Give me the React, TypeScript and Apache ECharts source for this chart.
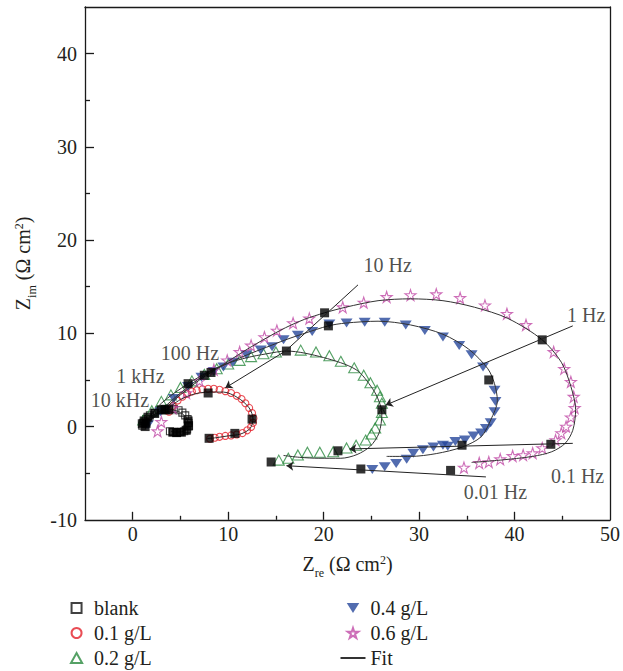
import React, { useEffect, useRef } from 'react';
import * as echarts from 'echarts';

const FONT = '"Liberation Serif", "DejaVu Serif", serif';
const TEXT = '#231f20';
const AXIS = '#1a1a1a';

// ticks / labels
const xTickLabels = [0, 10, 20, 30, 40, 50];
const yTickLabels = [-10, 0, 10, 20, 30, 40];
const xMajorTicks = [0, 10, 20, 30, 40];
const xMinorTicks = [5, 15, 25, 35, 45];
const yMajorTicks = [0, 10, 20, 30, 40];
const yMinorTicks = [-5, 5, 15, 25, 35];

// measured data (Zre, Zim)
const blankData = [
  [1.0, 0.1], [1.1, 0.4], [1.4, 0.8], [1.8, 1.2], [2.3, 1.5], [2.8, 1.75], [3.3, 1.9], [3.8, 1.95],
  [4.3, 1.9], [4.8, 1.75], [5.2, 1.5], [5.5, 1.2], [5.75, 0.8], [5.85, 0.4], [5.85, 0.0], [5.7, -0.3],
  [5.4, -0.5], [5.0, -0.6], [4.6, -0.65], [4.2, -0.6], [3.9, -0.5],
];
const g01Data = [
  [3.8, 1.6], [4.2, 2.2], [4.7, 2.8], [5.2, 3.2], [5.7, 3.5], [6.2, 3.75], [6.7, 3.9], [7.3, 4.0],
  [7.9, 4.05], [8.5, 4.05], [9.1, 3.95], [9.7, 3.8], [10.3, 3.6], [10.9, 3.3], [11.4, 2.95], [11.8, 2.5],
  [12.2, 2.0], [12.5, 1.45], [12.65, 0.9], [12.6, 0.4], [12.4, -0.05], [12.0, -0.4], [11.5, -0.7],
  [10.9, -0.85], [10.3, -0.95], [9.7, -1.0], [9.1, -1.1], [8.6, -1.2], [8.1, -1.3],
];
const g02Data = [
  [1.1, 0.7], [2.0, 1.7], [3.0, 2.7], [4.0, 3.4], [5.0, 4.2], [6.2, 4.9], [7.5, 5.6], [8.8, 6.2],
  [10.0, 6.7], [11.2, 7.1], [12.4, 7.5], [13.7, 7.8], [15.0, 8.0], [17.6, 8.2], [19.2, 8.0], [20.6, 7.6],
  [21.8, 7.0], [23.2, 6.3], [24.2, 5.5], [24.9, 4.7], [25.6, 3.9], [25.9, 3.2], [26.1, 2.5], [26.1, 1.5],
  [25.9, 0.7], [25.4, -0.15], [25.0, -0.8], [24.4, -1.45], [23.4, -2.0], [22.4, -2.3], [21.0, -2.7],
  [19.6, -2.75], [18.3, -2.75], [17.3, -3.05], [16.3, -3.4], [15.3, -3.6],
];
const g04Data = [
  [1.6, 0.2], [2.9, 1.6], [4.3, 3.0], [5.8, 4.3], [7.2, 5.3], [8.5, 5.9], [9.5, 6.4], [10.5, 6.9],
  [11.9, 7.7], [13.4, 8.2], [14.6, 8.55], [15.8, 9.3], [17.3, 9.8], [18.8, 10.2], [20.6, 11.0],
  [22.4, 11.1], [24.3, 11.2], [26.4, 11.2], [28.6, 10.9], [30.6, 10.3], [32.5, 9.6], [34.2, 8.7],
  [35.5, 7.7], [36.7, 6.4], [37.9, 3.9], [38.0, 2.7], [37.9, 1.6], [37.5, 0.4], [37.0, -0.2],
  [36.5, -0.7], [35.7, -1.0], [34.8, -1.45], [33.8, -1.6], [33.0, -2.1], [32.5, -2.0], [31.5, -2.2],
  [30.4, -2.5], [29.4, -2.85], [28.7, -3.5], [27.6, -3.95], [26.4, -4.3], [25.1, -4.6],
];
const g06Data = [
  [2.6, -0.5], [3.0, 0.5], [4.2, 2.0], [5.6, 3.6], [7.0, 4.9], [8.5, 6.1], [9.9, 7.1], [11.2, 8.0],
  [12.4, 8.7], [13.8, 9.6], [15.1, 10.3], [16.8, 11.1], [18.5, 11.6], [22.0, 12.8], [24.2, 13.3],
  [26.6, 13.9], [29.1, 14.1], [31.8, 14.2], [34.3, 13.8], [36.9, 13.0], [39.2, 12.1], [41.2, 10.9],
  [44.1, 8.0], [45.2, 6.2], [45.9, 4.8], [46.2, 3.2], [46.3, 2.0], [45.9, 1.0], [45.4, 0.0], [44.9, -0.7],
  [44.3, -1.45], [42.9, -2.3], [41.9, -2.85], [40.9, -3.05], [39.8, -3.15], [38.5, -3.5], [37.3, -3.8],
  [36.3, -3.9], [34.7, -4.4],
];

// fitted curves
const fitBlank = [
  [1.1, 0.3], [2.0, 1.1], [3.0, 1.7], [4.0, 1.8], [5.0, 1.5], [5.7, 0.8], [5.8, 0.0], [5.3, -0.5],
  [4.5, -0.6], [4.0, -0.5],
];
const fit01 = [
  [3.5, 1.8], [5.0, 2.9], [6.5, 3.5], [8.0, 3.7], [9.5, 3.7], [11.0, 3.1], [12.2, 2.0], [12.6, 0.8],
  [12.3, -0.2], [11.3, -0.8], [10.0, -1.0], [8.7, -1.2], [7.8, -1.3],
];
const fit02 = [
  [1.2, 0.3], [3, 2.5], [5.8, 4.6], [8, 5.9], [10, 6.8], [12, 7.4], [14, 7.8], [16.1, 8.1], [20.0, 7.4],
  [23.4, 6.1], [25.1, 4.1], [25.8, 2.7], [26.1, 1.4], [25.8, -0.7], [24.9, -2.1], [23.5, -3.0],
  [21.8, -3.4], [19.5, -3.4], [17.5, -3.3], [15.8, -3.1],
];
const fit04 = [
  [1.2, 0.2], [3, 1.8], [5, 3.6], [7.5, 5.5], [10, 6.8], [12, 7.7], [14, 8.5], [16, 9.3], [18, 10.0],
  [20.5, 10.8], [22.3, 11.1], [25.7, 11.3], [29.1, 10.9], [32.5, 9.9], [35.2, 8.3], [37.2, 6.2],
  [37.9, 4.6], [38.2, 2.8], [37.5, 0.7], [36.5, -1.1], [34.5, -2.2], [31.8, -2.9], [29.1, -3.2], [26.6, -3.2],
];
const fit06 = [
  [1.2, 0.2], [3, 1.6], [5, 3.4], [7, 5.0], [8.2, 5.8], [10, 7.0], [12, 8.3], [14, 9.5], [16, 10.6],
  [18, 11.5], [20.1, 12.2], [22.3, 12.8], [25.7, 13.5], [29.1, 13.7], [32.5, 13.5], [35.8, 12.8],
  [39.3, 11.6], [42.9, 9.3], [44.9, 6.9], [45.9, 4.3], [46.4, 1.8], [46.1, -0.4], [45.3, -1.8],
  [43.9, -2.7], [41.9, -3.2], [38.5, -3.6], [35.5, -3.85],
];
// fitted frequency markers (filled squares)
const fitMarkers = [
  [1.0, 0.3], [1.2, 0.6], [1.4, 0.35], [1.3, 0.0], [1.6, 1.0], [2.3, 1.4], [3.0, 1.8], [3.4, 1.8],
  [3.8, 1.8], [5.8, 4.6], [7.5, 5.5], [8.2, 5.8], [16.1, 8.1], [20.5, 10.8], [20.1, 12.2], [26.1, 1.8],
  [37.3, 5.0], [42.9, 9.3], [21.5, -2.6], [34.5, -2.0], [43.8, -1.9], [14.5, -3.8], [23.9, -4.55],
  [33.3, -4.7], [7.9, 3.6], [12.5, 0.8], [10.7, -0.73], [8.0, -1.26], [5.8, 0.6], [5.85, 0.1],
  [5.6, -0.4], [5.1, -0.6], [4.6, -0.65], [4.2, -0.6],
];

// annotations
const annoText = ['10 Hz', '1 Hz', '100 Hz', '1 kHz', '10 kHz', '0.1 Hz', '0.01 Hz'];
const annoX = [26.7, 47.5, 6.0, 0.8, -1.35, 46.6, 38.0];
const annoY = [17.3, 12.0, 7.9, 5.4, 2.85, -5.35, -7.05];
const arrowFrom = [[23.6, 15.2], [16.0, 8.1], [46.1, 10.8], [46.1, -1.8], [37.0, -5.4]];
const arrowTo = [[16.0, 8.1], [9.7, 4.15], [26.5, 2.3], [22.7, -2.4], [16.1, -4.2]];
const arrowHead = [false, true, true, true, true];

const STAR = 'path://M50,2 L61.8,38.2 L100,38.2 L69.1,60.6 L80.9,97 L50,74.5 L19.1,97 L30.9,60.6 L0,38.2 L38.2,38.2 Z';
const DOWN_TRI = 'path://M0,0 L10,0 L5,8 Z';
const UP_TRI = 'path://M5,0 L10,9 L0,9 Z';
const SQUARE = 'path://M0,0 L10,0 L10,10 L0,10 Z';
const NONE = 'rgba(0,0,0,0)';

const axisLineStyle = { color: AXIS, width: 1.3 };
const labelStyle = { fontFamily: FONT, fontSize: 20, color: TEXT };
const nameRich = {
  m: { fontFamily: FONT, fontSize: 20, color: TEXT, lineHeight: 30 },
  sub: { fontFamily: FONT, fontSize: 12, color: TEXT, lineHeight: 12, verticalAlign: 'bottom' },
  sup: { fontFamily: FONT, fontSize: 12, color: TEXT, lineHeight: 12, verticalAlign: 'top', padding: [5, 0, 0, 0] },
};

const fitLine = (data: number[][]) => ({
  type: 'line',
  name: 'Fit',
  data,
  smooth: 0.3,
  symbol: 'none',
  itemStyle: { color: NONE, borderColor: NONE, borderWidth: 0 },
  lineStyle: { color: '#333', width: 1 },
  z: 3,
});

const scatter = (name: string, data: number[][], symbol: string, size: any, color: string, filled: boolean) => ({
  type: 'scatter',
  name,
  data,
  symbol,
  symbolSize: size,
  itemStyle: filled ? { color } : { color: NONE, borderColor: color, borderWidth: 1.1 },
  z: 2,
});

const legendBase = {
  orient: 'vertical', top: 593, height: 100, itemWidth: 25, itemHeight: 10, itemGap: 5,
  selectedMode: false, textStyle: { fontFamily: FONT, fontSize: 20, color: TEXT },
};

const option: any = {
  animation: false,
  backgroundColor: '#fff',
  grid: { left: 69.5, right: 9.6, top: 7, bottom: 151.2 },
  xAxis: [
    {
      type: 'value', min: -5, max: 50, interval: 5, position: 'bottom',
      axisLine: { show: true, onZero: false, lineStyle: axisLineStyle },
      axisTick: { show: true, inside: true, length: 8, customValues: xMajorTicks, lineStyle: axisLineStyle },
      axisLabel: {
        ...labelStyle, margin: 4, customValues: xTickLabels,
        formatter: (v: number) => (v % 10 === 0 ? String(v) : ''),
      },
      splitLine: { show: false },
      name: '{m|Z}{sub|re}{m| (Ω cm}{sup|2}{m|)}',
      nameLocation: 'middle', nameGap: 15,
      nameTextStyle: { ...labelStyle, rich: nameRich },
    },
    {
      type: 'value', min: -5, max: 50, interval: 5, position: 'bottom',
      axisLine: { show: false, onZero: false },
      axisTick: { show: true, inside: true, length: 4, customValues: xMinorTicks, lineStyle: axisLineStyle },
      axisLabel: { show: false }, splitLine: { show: false },
    },
    {
      type: 'value', min: -5, max: 50, interval: 5, position: 'top',
      axisLine: { show: true, onZero: false, lineStyle: axisLineStyle },
      axisTick: { show: false }, axisLabel: { show: false }, splitLine: { show: false },
    },
  ],
  yAxis: [
    {
      type: 'value', min: -10, max: 45, interval: 5, position: 'left',
      axisLine: { show: true, onZero: false, lineStyle: axisLineStyle },
      axisTick: { show: true, inside: true, length: 9, customValues: yMajorTicks, lineStyle: axisLineStyle },
      axisLabel: {
        ...labelStyle, margin: 8, customValues: yTickLabels,
        formatter: (v: number) => (v % 10 === 0 && v <= 40 ? String(v) : ''),
      },
      splitLine: { show: false },
      name: '{m|Z}{sub|im}{m| (Ω cm}{sup|2}{m|)}',
      nameLocation: 'middle', nameGap: 47, nameRotate: 90,
      nameTextStyle: { ...labelStyle, rich: nameRich },
    },
    {
      type: 'value', min: -10, max: 45, interval: 5, position: 'left',
      axisLine: { show: false, onZero: false },
      axisTick: { show: true, inside: true, length: 5, customValues: yMinorTicks, lineStyle: axisLineStyle },
      axisLabel: { show: false }, splitLine: { show: false },
    },
    {
      type: 'value', min: -10, max: 45, interval: 5, position: 'right',
      axisLine: { show: true, onZero: false, lineStyle: axisLineStyle },
      axisTick: { show: false }, axisLabel: { show: false }, splitLine: { show: false },
    },
  ],
  legend: [
    { ...legendBase, left: 65, data: ['blank', '0.1 g/L', '0.2 g/L'] },
    { ...legendBase, left: 334.5, data: ['0.4 g/L', '0.6 g/L', 'Fit'] },
  ],
  series: [
    scatter('blank', blankData, SQUARE, 7, '#111', false),
    scatter('0.1 g/L', g01Data, 'circle', 7, '#e3202b', false),
    scatter('0.2 g/L', g02Data, UP_TRI, [11, 10], '#2b8a3e', false),
    scatter('0.4 g/L', g04Data, DOWN_TRI, [12, 9], '#27479b', true),
    scatter('0.6 g/L', g06Data, STAR, 11, '#c04aa6', false),
    fitLine(fitBlank),
    fitLine(fit01),
    fitLine(fit02),
    fitLine(fit04),
    fitLine(fit06),
    {
      type: 'scatter', name: 'fit markers', data: fitMarkers, symbol: 'rect', symbolSize: 9,
      itemStyle: { color: '#000' }, z: 4,
    },
    {
      type: 'scatter', name: 'annotations',
      data: annoText.map((t, i) => ({ name: t, value: [annoX[i], annoY[i]] })),
      symbol: 'circle', symbolSize: 1, itemStyle: { color: NONE }, z: 5, silent: true,
      label: { show: true, position: 'inside', formatter: '{b}', fontFamily: FONT, fontSize: 20, color: TEXT },
      markLine: {
        silent: true, animation: false, symbolSize: 7,
        lineStyle: { color: '#222', width: 1, type: 'solid' },
        label: { show: false },
        emphasis: { disabled: true },
        data: arrowFrom.map((f, i) => [
          { coord: f, symbol: 'none' },
          { coord: arrowTo[i], symbol: arrowHead[i] ? 'arrow' : 'none' },
        ]),
      },
    },
  ],
};

export default function App() {
  const ref = useRef<HTMLDivElement>(null);
  useEffect(() => {
    const chart = echarts.init(ref.current!, null, { renderer: 'svg' });
    chart.setOption(option);
    return () => chart.dispose();
  }, []);
  return (
    <div
      ref={ref}
      style={{ position: 'fixed', left: 0, top: 0, width: 623, height: 671, background: '#fff' }}
    />
  );
}
